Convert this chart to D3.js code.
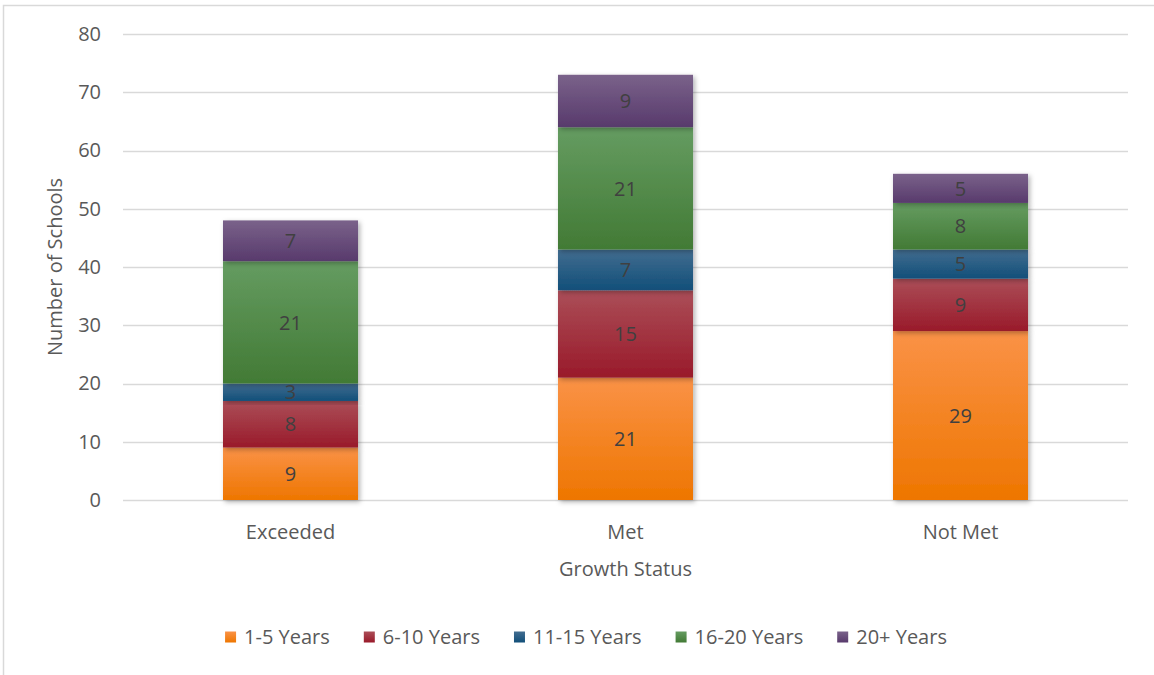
<!DOCTYPE html>
<html>
<head>
<meta charset="utf-8">
<script src="https://cdn.jsdelivr.net/npm/d3@7"></script>
<style>
  html, body { margin: 0; padding: 0; background: #fff; }
  svg { display: block; font-family: "Open Sans", Lato, sans-serif; }
</style>
</head>
<body>
<svg id="chart" width="1154" height="675"></svg>
<script>
const categories = ["Exceeded", "Met", "Not Met"];
const seriesNames = ["1-5 Years", "6-10 Years", "11-15 Years", "16-20 Years", "20+ Years"];
const years1to5 = [9, 21, 29];
const years6to10 = [8, 15, 9];
const years11to15 = [3, 7, 5];
const years16to20 = [21, 21, 8];
const years20plus = [7, 9, 5];
const yTicks = [0, 10, 20, 30, 40, 50, 60, 70, 80];
const colorsTop = ["#fa9247", "#ab4e58", "#426d90", "#659c61", "#7a628a"];
const colorsBottom = ["#ee7600", "#991a2a", "#124f79", "#427a35", "#583a6c"];

const FS = 20;
const FONT = "'Open Sans', Lato, sans-serif";

const seriesValues = [years1to5, years6to10, years11to15, years16to20, years20plus];
const table = categories.map((c, i) => {
  const row = { category: c };
  seriesNames.forEach((s, k) => row[s] = seriesValues[k][i]);
  return row;
});
const stacked = d3.stack().keys(seriesNames)(table);

const svg = d3.select("#chart");
const margin = { left: 123, right: 1128, top: 34, bottom: 500 };

const x = d3.scaleBand().domain(categories).range([margin.left, margin.right]).paddingInner(0.597).paddingOuter(0.2985);
const y = d3.scaleLinear().domain([0, 80]).range([margin.bottom, margin.top]);

const defs = svg.append("defs");
seriesNames.forEach((s, k) => {
  const g = defs.append("linearGradient").attr("id", "grad" + k).attr("x1", 0).attr("y1", 0).attr("x2", 0).attr("y2", 1);
  g.append("stop").attr("offset", "0%").attr("stop-color", colorsTop[k]);
  g.append("stop").attr("offset", "100%").attr("stop-color", colorsBottom[k]);
});
const f = defs.append("filter").attr("id", "shadow").attr("x", "-10%").attr("y", "-10%").attr("width", "130%").attr("height", "130%");
f.append("feDropShadow").attr("dx", 2).attr("dy", 2).attr("stdDeviation", 2.5).attr("flood-color", "#000").attr("flood-opacity", 0.3);

// frame
svg.append("rect").attr("x", 3.5).attr("y", 5.5).attr("width", 1160).attr("height", 680)
  .attr("fill", "none").attr("stroke", "#d9d9d9").attr("stroke-width", 1.5);

// gridlines
svg.append("g").selectAll("line").data(yTicks).join("line")
  .attr("x1", margin.left).attr("x2", margin.right)
  .attr("y1", d => Math.round(y(d)) + 0.5).attr("y2", d => Math.round(y(d)) + 0.5)
  .attr("stroke", "#d9d9d9").attr("stroke-width", 1.5);

// y axis labels
const yAxis = d3.axisLeft(y).tickValues(yTicks).tickSize(0).tickPadding(0);
const ya = svg.append("g").attr("transform", "translate(101,0)").call(yAxis);
ya.select(".domain").remove();
ya.selectAll("text").attr("font-size", FS).attr("fill", "#595959").attr("font-family", FONT);

// x axis labels
const xAxis = d3.axisBottom(x).tickSize(0).tickPadding(0);
const xa = svg.append("g").attr("transform", "translate(0,525)").call(xAxis);
xa.select(".domain").remove();
xa.selectAll("text").attr("font-size", FS).attr("fill", "#595959").attr("font-family", FONT);

// bars
const layer = svg.append("g");
stacked.forEach((ser, k) => {
  layer.append("g").selectAll("rect").data(ser).join("rect")
    .attr("x", d => x(d.data.category))
    .attr("width", x.bandwidth())
    .attr("y", d => y(d[1]))
    .attr("height", d => y(d[0]) - y(d[1]))
    .attr("fill", "url(#grad" + k + ")")
    .attr("filter", "url(#shadow)");
});
// labels
stacked.forEach((ser, k) => {
  layer.append("g").selectAll("text").data(ser).join("text")
    .attr("x", d => x(d.data.category) + x.bandwidth() / 2)
    .attr("y", d => (y(d[0]) + y(d[1])) / 2)
    .attr("dy", "0.36em")
    .attr("text-anchor", "middle")
    .attr("font-size", FS)
    .attr("fill", "#404040")
    .text(d => d[1] - d[0]);
});

// axis titles
svg.append("text").attr("x", x("Met") + x.bandwidth() / 2).attr("y", 569).attr("dy", "0.36em")
  .attr("text-anchor", "middle").attr("font-size", FS).attr("fill", "#595959").text("Growth Status");
svg.append("text").attr("transform", "translate(55,267) rotate(-90)").attr("dy", "0.36em")
  .attr("text-anchor", "middle").attr("font-size", FS).attr("fill", "#595959").text("Number of Schools");

// legend
const leg = svg.append("g");
const items = leg.selectAll("g").data(seriesNames).join("g");
items.append("rect").attr("width", 11).attr("height", 11).attr("y", -5.5).attr("fill", (d, k) => "url(#grad" + k + ")");
items.append("text").attr("x", 19).attr("dy", "0.36em").attr("font-size", FS).attr("fill", "#595959").text(d => d);
let cx = 0;
const pos = [];
const GAP = 34;
items.each(function(d) {
  const w = d3.select(this).select("text").node().getComputedTextLength();
  pos.push(cx);
  cx += 19 + w + GAP;
});
const totalW = cx - GAP;
const startX = 586 - totalW / 2;
items.attr("transform", (d, i) => `translate(${startX + pos[i]},637)`);
</script>
</body>
</html>
